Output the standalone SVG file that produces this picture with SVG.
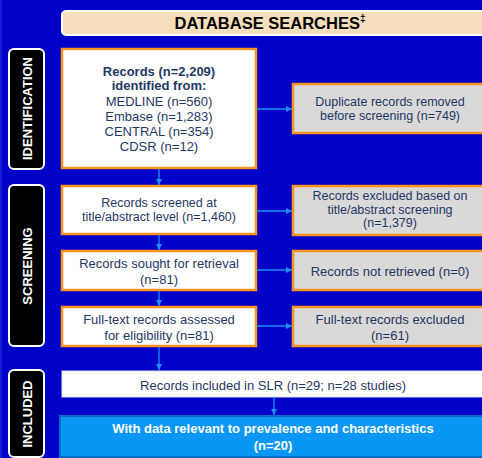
<svg xmlns="http://www.w3.org/2000/svg" width="482" height="458" viewBox="0 0 482 458">
<defs>
<marker id="ah" viewBox="0 0 10 10" refX="10" refY="5" markerWidth="6" markerHeight="6" markerUnits="userSpaceOnUse" orient="auto">
<path d="M0,0 L10,5 L0,10 z" fill="#1E90F5"/>
</marker>
<style>
text{font-family:"Liberation Sans",Arial,sans-serif;font-size:13px;text-anchor:middle;dominant-baseline:central}
.lbl rect{fill:#000;stroke:#fff;stroke-width:2}
.lbl text{fill:#fff;font-weight:bold}
.main{fill:#fff;stroke:#F7941D;stroke-width:2.5}
.side{fill:#D9D9D9;stroke:#F7941D;stroke-width:2.5}
.t{fill:#1F3864}
.tight{font-size:12.5px}
.conn line{stroke:#1E90F5;stroke-width:1.3;marker-end:url(#ah)}
</style>
</defs>
<rect x="0" y="0" width="482" height="458" fill="#0000C8"/>
<rect x="0" y="0" width="2" height="458" fill="#1A1AD0"/>

<g id="banner">
<rect x="62" y="11" width="440" height="24" rx="4" fill="#F5DEBB" stroke="#fff" stroke-width="2"/>
<text x="270" y="23" style="font-size:16.5px;font-weight:bold;fill:#000">DATABASE SEARCHES<tspan dy="-5" style="font-size:10px">‡</tspan></text>
</g>

<g id="lbl-identification" class="lbl">
<rect x="9" y="49" width="35" height="120" rx="5"/>
<text transform="translate(27,108.5) rotate(-90)">IDENTIFICATION</text>
</g>
<g id="lbl-screening" class="lbl">
<rect x="9" y="185" width="35" height="161" rx="5"/>
<text transform="translate(27,266) rotate(-90)">SCREENING</text>
</g>
<g id="lbl-included" class="lbl">
<rect x="9" y="370" width="35" height="87" rx="5"/>
<text transform="translate(27,414) rotate(-90)">INCLUDED</text>
</g>

<g id="n-records">
<rect class="main" x="62" y="49" width="194" height="119"/>
<text class="t" x="159" y="71" font-weight="bold">Records (n=2,209)</text>
<text class="t" x="159" y="85.5" font-weight="bold">identified from:</text>
<text class="t" x="159" y="101">MEDLINE (n=560)</text>
<text class="t" x="159" y="116">Embase (n=1,283)</text>
<text class="t" x="159" y="131">CENTRAL (n=354)</text>
<text class="t" x="159" y="146.5">CDSR (n=12)</text>
</g>
<g id="n-duplicates">
<rect class="side" x="293" y="84" width="200" height="49"/>
<text class="t tight" x="390" y="101.5">Duplicate records removed</text>
<text class="t tight" x="390" y="115.5">before screening (n=749)</text>
</g>

<g id="n-screened">
<rect class="main" x="62" y="186" width="194" height="48"/>
<text class="t tight" x="159" y="202.5">Records screened at</text>
<text class="t tight" x="159" y="216.5">title/abstract level (n=1,460)</text>
</g>
<g id="n-excluded-ta">
<rect class="side" x="293" y="186" width="200" height="49"/>
<text class="t tight" x="390" y="196">Records excluded based on</text>
<text class="t tight" x="390" y="209.5">title/abstract screening</text>
<text class="t tight" x="390" y="223">(n=1,379)</text>
</g>

<g id="n-sought">
<rect class="main" x="62" y="251" width="194" height="39"/>
<text class="t" x="159" y="263">Records sought for retrieval</text>
<text class="t" x="159" y="279">(n=81)</text>
</g>
<g id="n-not-retrieved">
<rect class="side" x="293" y="251" width="200" height="39"/>
<text class="t" x="390" y="271">Records not retrieved (n=0)</text>
</g>

<g id="n-fulltext">
<rect class="main" x="62" y="307" width="194" height="39"/>
<text class="t" x="159" y="319">Full-text records assessed</text>
<text class="t" x="159" y="335">for eligibility (n=81)</text>
</g>
<g id="n-ft-excluded">
<rect class="side" x="293" y="307" width="200" height="39"/>
<text class="t" x="390" y="319">Full-text records excluded</text>
<text class="t" x="390" y="335">(n=61)</text>
</g>

<g id="n-included">
<rect x="62" y="371" width="440" height="26" fill="#fff" stroke="#DDE3EE" stroke-width="1"/>
<text class="t" x="273" y="385">Records included in SLR (n=29; n=28 studies)</text>
</g>
<g id="n-relevant">
<rect x="60" y="416" width="440" height="41" fill="#0A96F5" stroke="#0A6AC8" stroke-width="2"/>
<text x="273" y="428" style="fill:#fff;font-weight:bold">With data relevant to prevalence and characteristics</text>
<text x="273" y="445" style="fill:#fff;font-weight:bold">(n=20)</text>
</g>

<g id="connectors" class="conn">
<line x1="159" y1="169" x2="159" y2="185"/>
<line x1="159" y1="235" x2="159" y2="250"/>
<line x1="159" y1="291" x2="159" y2="306"/>
<line x1="159" y1="347" x2="159" y2="370"/>
<line x1="274" y1="397" x2="274" y2="415"/>
<line x1="257" y1="109" x2="292" y2="109"/>
<line x1="257" y1="211" x2="292" y2="211"/>
<line x1="257" y1="270" x2="292" y2="270"/>
<line x1="257" y1="326" x2="292" y2="326"/>
</g>
</svg>
